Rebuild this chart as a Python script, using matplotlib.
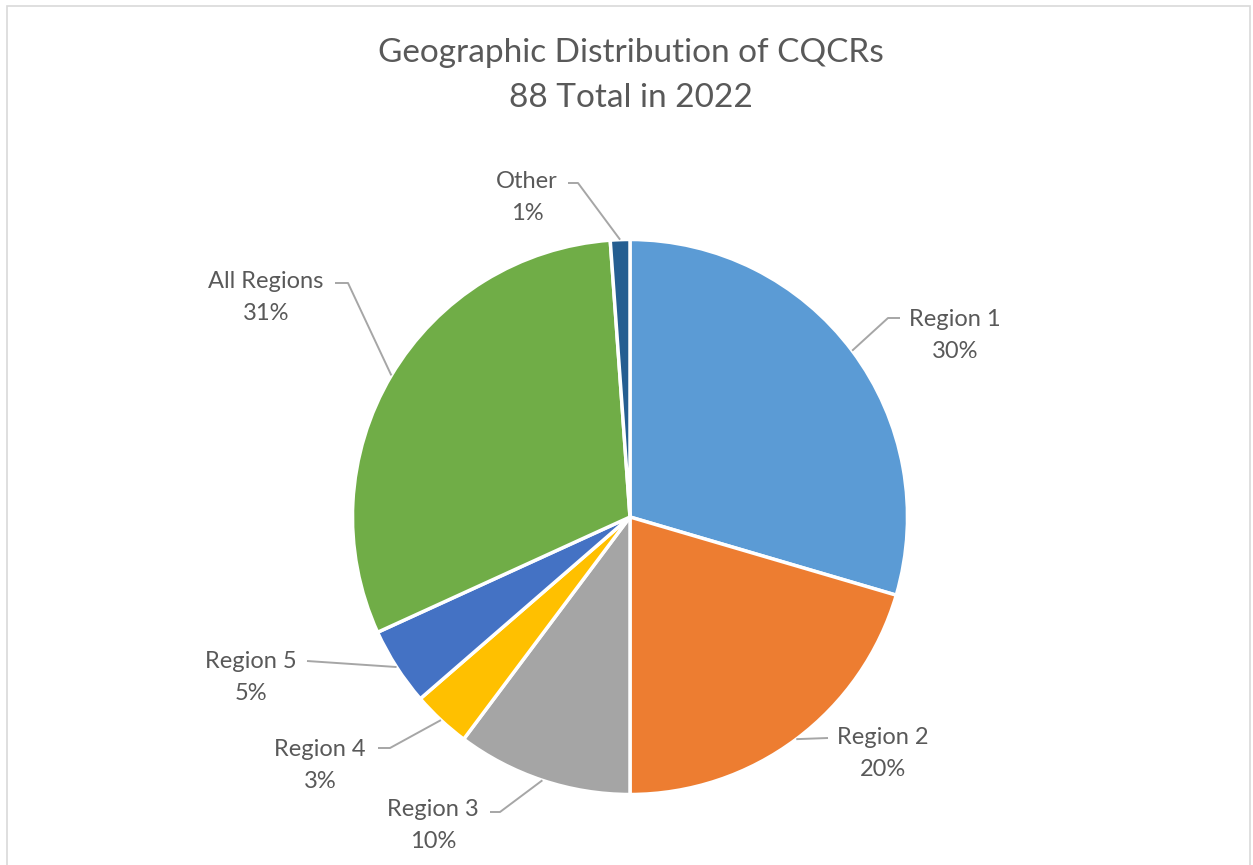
import numpy as np
import matplotlib.pyplot as plt
from matplotlib.patches import Rectangle

plt.rcParams['font.family'] = ['Lato', 'DejaVu Sans']

# ------------------------------------------------
# Data (88 CQCRs in 2022)
# ------------------------------------------------
categories = ["Region 1", "Region 2", "Region 3", "Region 4",
              "Region 5", "All Regions", "Other"]
counts = [26, 18, 9, 3, 4, 27, 1]
colors = ["#5B9BD5", "#ED7D31", "#A5A5A5", "#FFC000",
          "#4472C4", "#70AD47", "#255E91"]
title_lines = ["Geographic Distribution of CQCRs", "88 Total in 2022"]

W, H = 1253, 865
TXT = "#595959"
LEAD = "#A6A6A6"

fig = plt.figure(figsize=(W / 100, H / 100), dpi=100)
ax = fig.add_axes([0, 0, 1, 1])
ax.set_xlim(0, W)
ax.set_ylim(0, H)
ax.set_aspect("equal")
ax.axis("off")


def py(y):
    # pixel row (top-down) -> data y
    return H - y


# chart frame
ax.add_patch(Rectangle((6.5, py(900)), 1243, 900 - 5.5, fill=False,
                       edgecolor="#D9D9D9", linewidth=1.2))

cx, cy, r = 630, py(517), 277.5
wedges, _ = ax.pie(counts, colors=colors, startangle=90, counterclock=False,
                   center=(cx, cy), radius=r,
                   wedgeprops=dict(edgecolor="white", linewidth=2.5))
ax.set_xlim(0, W)
ax.set_ylim(0, H)

ax.text(631, py(53), title_lines[0], ha="center", va="center",
        fontsize=24, color=TXT)
ax.text(631, py(98), title_lines[1], ha="center", va="center",
        fontsize=24, color=TXT)

# label text centre (px), and start of the leader line (px)
label_pos = {
    "Region 1": ((955, 319), (900, 318), (888, 318)),
    "Region 2": ((883, 738), (828, 738), None),
    "Region 3": ((433, 810), (490, 812), (500, 812)),
    "Region 4": ((320, 749), (378, 748), (390, 748)),
    "Region 5": ((251, 662), (307, 661), None),
    "All Regions": ((266, 282), (335, 283), (348, 283)),
    "Other": ((527, 182), (568, 183), (578, 183)),
}

total = sum(counts)
start = 0.0
for name, c in zip(categories, counts):
    frac = c / total
    mid = (start + frac / 2) * 2 * np.pi
    start += frac
    ex = cx + r * np.sin(mid)
    ey = cy + r * np.cos(mid)
    (tx, ty), p1, p2 = label_pos[name]
    xs = [p1[0]] + ([p2[0]] if p2 else []) + [ex]
    ys = [py(p1[1])] + ([py(p2[1])] if p2 else []) + [ey]
    ax.plot(xs, ys, color=LEAD, linewidth=1.4, solid_capstyle="butt")
    ax.text(tx, py(ty), name, ha="center", va="center", fontsize=17, color=TXT)
    ax.text(tx, py(ty + 32), f"{round(frac * 100)}%", ha="center",
            va="center", fontsize=17, color=TXT)

fig.savefig("out.png", dpi=100, facecolor="white")
